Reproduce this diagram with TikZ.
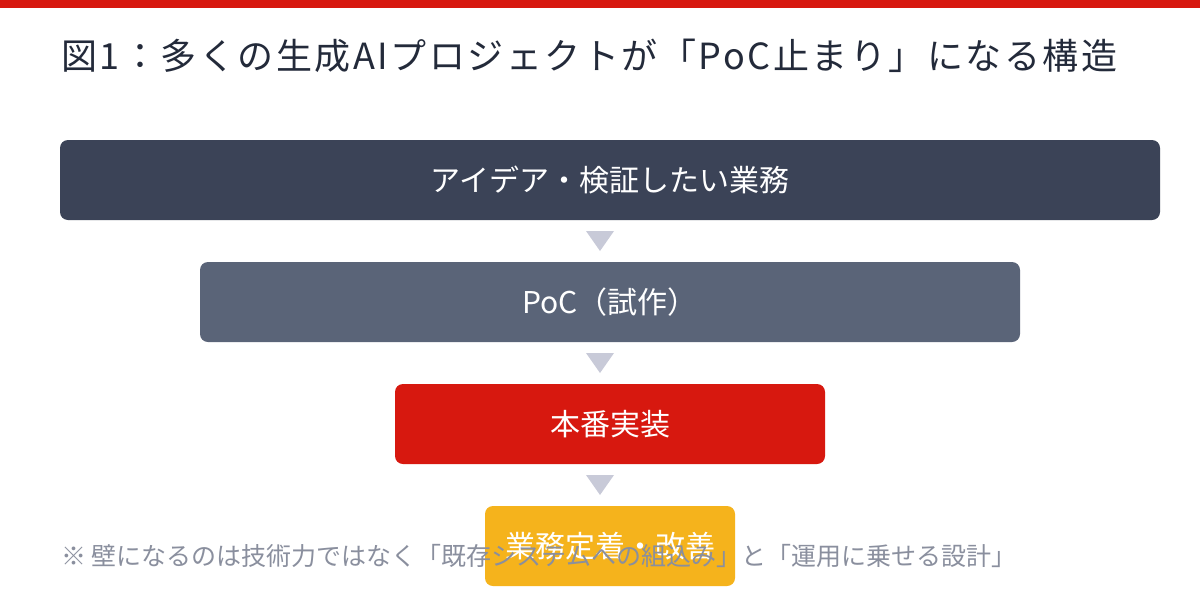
\documentclass[tikz,border=0pt]{standalone}
\usepackage{fontspec}
\usetikzlibrary{calc}
\setmainfont{Noto Sans CJK JP}
\definecolor{barred}{HTML}{D7180F}
\definecolor{titlec}{HTML}{232A3A}
\definecolor{dark}{HTML}{3B4357}
\definecolor{mid}{HTML}{5A6478}
\definecolor{hot}{HTML}{D7180F}
\definecolor{gold}{HTML}{F5B31C}
\definecolor{arrowc}{HTML}{C8CAD8}
\definecolor{notec}{HTML}{8A8F9E}
\begin{document}
\begin{tikzpicture}[x=1pt,y=-1pt,
  stage/.style={rounded corners=8pt, inner sep=0pt, text=white,
    font=\fontsize{30}{36}\selectfont, minimum height=80pt},
  tri/.style={fill=arrowc, draw=none}]
\useasboundingbox (0,0) rectangle (1200,600);
\fill[white] (0,0) rectangle (1200,600);
\fill[barred] (0,0) rectangle (1200,8);
\node[anchor=west, text=titlec, font=\fontsize{36}{42}\selectfont\addfontfeatures{LetterSpace=7}, inner sep=0pt] (title) at (61,56) {図1：多くの生成AIプロジェクトが「PoC止まり」になる構造};
\node[stage, fill=dark, minimum width=1100pt] (s1) at (610,180) {アイデア・検証したい業務};
\node[stage, fill=mid, minimum width=820pt] (s2) at (610,302) {PoC（試作）};
\node[stage, fill=hot, minimum width=430pt] (s3) at (610,424) {本番実装};
\node[stage, fill=gold, minimum width=250pt] (s4) at (610,546) {業務定着・改善};
\foreach \a/\b in {s1/s2,s2/s3,s3/s4}{
  \path (\a.south) -- (\b.north) coordinate[pos=0.5] (m\a);
  \fill[tri] ($(m\a)+(-24,-10)$) -- ($(m\a)+(4,-10)$) -- ($(m\a)+(-10,10)$) -- cycle;
}
\node[anchor=west, text=notec, font=\fontsize{25}{30}\selectfont, inner sep=0pt] (note) at (61,556) {※ 壁になるのは技術力ではなく「既存システムへの組込み」と「運用に乗せる設計」};
\end{tikzpicture}
\end{document}
